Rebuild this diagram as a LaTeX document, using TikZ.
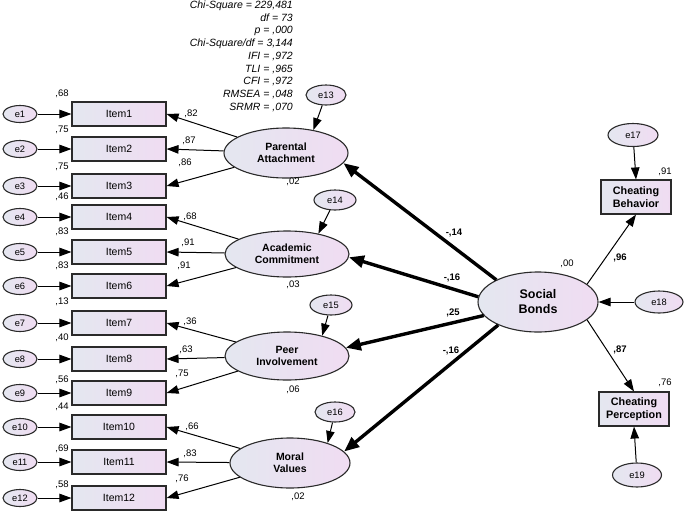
\documentclass[tikz,border=0pt]{standalone}
\usepackage{fontspec}
\setmainfont{Liberation Sans}
\usetikzlibrary{shapes.geometric,arrows.meta}
\definecolor{lcol}{HTML}{E4E7F0}
\definecolor{rcol}{HTML}{F0DCF2}
\definecolor{edgec}{HTML}{2A2A2A}
\tikzset{
 shaded/.style={draw=edgec, line width=1.1pt, left color=lcol, right color=rcol},
 itembox/.style={shaded, minimum width=94pt, minimum height=24pt, inner sep=0pt, font=\fontsize{10.5}{12}\selectfont},
 errell/.style={shaded, ellipse, minimum width=34pt, minimum height=17pt, inner sep=0pt, font=\fontsize{9.3}{10}\selectfont},
 bigerr/.style={errell, minimum width=48pt, minimum height=22pt},
 latent/.style={shaded, ellipse, inner sep=0pt, align=center, font=\fontsize{10.5}{12.3}\selectfont\bfseries},
 obsbox/.style={shaded, minimum width=70pt, minimum height=34pt, inner sep=0pt, align=center, font=\fontsize{10.8}{12.5}\selectfont\bfseries},
 num/.style={font=\fontsize{9.5}{10}\selectfont, inner sep=0pt},
 bnum/.style={font=\fontsize{9.5}{10}\selectfont\bfseries, inner sep=0pt},
 patharrow/.style={draw=black, line width=1pt, -{Triangle[length=12pt,width=8.5pt]}},
 strongarrow/.style={draw=black, line width=3.4pt, -{Triangle[length=15pt,width=12pt]}},
}
\begin{document}
\begin{tikzpicture}[x=1pt,y=-1pt]
\useasboundingbox (0,0) rectangle (685,512);

% fit statistics
\node[anchor=north east, inner sep=0pt, align=right, font=\fontsize{10.5}{12.75}\selectfont\itshape] (fit) at (293,0.5)
{Chi-Square = 229,481\\ df = 73\\ p = ,000\\ Chi-Square/df = 3,144\\ IFI = ,972\\ TLI = ,965\\ CFI = ,972\\ RMSEA = ,048\\ SRMR = ,070};

% items and their errors
\foreach \i/\y in {1/114,2/149,3/186,4/217,5/252,6/286,7/323,8/359,9/393,10/427,11/462,12/498} {
  \node[itembox] (I\i) at (119,\y) {Item\i};
  \node[errell] (e\i) at (20,\y) {e\i};
  \draw[patharrow] (e\i) -- (I\i);
}

% item R^2 labels
\foreach \v/\y in {68/94,75/130,75/167,46/197,83/232,83/266,13/302,40/338,56/380,44/407,69/449,58/485} {
  \node[num] at (62,\y) {,\v};
}

% latent factors
\node[latent, minimum width=124pt, minimum height=50pt] (PA) at (286,153) {Parental\\Attachment};
\node[latent, minimum width=124pt, minimum height=46pt] (AC) at (287,254) {Academic\\Commitment};
\node[latent, minimum width=124pt, minimum height=48pt] (PI) at (287,356) {Peer\\Involvement};
\node[latent, minimum width=120pt, minimum height=50pt] (MV) at (290,463) {Moral\\Values};
\node[latent, minimum width=120pt, minimum height=60pt, font=\fontsize{12.5}{15}\selectfont\bfseries] (SB) at (538,302) {Social\\Bonds};

% latent errors
\node[errell, minimum width=40pt, minimum height=20pt] (e13) at (326,95) {e13};
\node[errell, minimum width=42pt, minimum height=20pt] (e14) at (335,200) {e14};
\node[errell, minimum width=42pt, minimum height=20pt] (e15) at (331,305) {e15};
\node[errell, minimum width=40pt, minimum height=20pt] (e16) at (335,412) {e16};
\draw[patharrow] (e13) -- (PA.40);
\draw[patharrow] (e14) -- (AC.33);
\draw[patharrow] (e15) -- (PI.30);
\draw[patharrow] (e16) -- (MV.28);

% loadings
\draw[patharrow] (PA) -- (I1.east);
\draw[patharrow] (PA) -- (I2.east);
\draw[patharrow] (PA) -- (I3.east);
\draw[patharrow] (AC) -- (I4.east);
\draw[patharrow] (AC) -- (I5.east);
\draw[patharrow] (AC) -- (I6.east);
\draw[patharrow] (PI) -- (I7.east);
\draw[patharrow] (PI) -- (I8.east);
\draw[patharrow] (PI) -- (I9.east);
\draw[patharrow] (MV) -- (I10.east);
\draw[patharrow] (MV) -- (I11.east);
\draw[patharrow] (MV) -- (I12.east);

\node[num] at (191,114) {,82};
\node[num] at (189,141) {,87};
\node[num] at (185,163) {,86};
\node[num] at (190,217) {,68};
\node[num] at (188,243) {,91};
\node[num] at (184,266) {,91};
\node[num] at (190,322) {,36};
\node[num] at (186,350) {,63};
\node[num] at (182,374) {,75};
\node[num] at (192,427) {,66};
\node[num] at (190,454) {,83};
\node[num] at (182,479) {,76};

% latent R^2
\node[num] at (293,182) {,02};
\node[num] at (293,285) {,03};
\node[num] at (293,390) {,06};
\node[num] at (298,497) {,02};
\node[num] at (567,264) {,00};

% outcomes
\node[obsbox] (CB) at (636,197) {Cheating\\Behavior};
\node[obsbox] (CP) at (634,409) {Cheating\\Perception};
\node[bigerr, minimum width=50pt, minimum height=23pt] (e17) at (633,135) {e17};
\node[bigerr] (e18) at (659,302) {e18};
\node[bigerr, minimum width=49pt, minimum height=24pt] (e19) at (637,475) {e19};
\draw[patharrow] (e17) -- (CB.north);
\draw[patharrow] (e19) -- (CP.south);
\draw[patharrow] (e18) -- (SB.east);
\node[num] at (665,172) {,91};
\node[num] at (665,383) {,76};

% structural paths
\draw[strongarrow] (SB.152) -- (PA.-10);
\draw[strongarrow] (SB.175) -- (AC.-3);
\draw[strongarrow] (SB.-166) -- (PI.8);
\draw[strongarrow] (SB.-150) -- (MV.12);
\draw[patharrow] (SB.20) -- (CB.south);
\draw[patharrow] (SB.-20) -- (CP.north);

\node[bnum] at (454,233) {-,14};
\node[bnum] at (452,278) {-,16};
\node[bnum] at (453,313) {,25};
\node[bnum] at (451,351) {-,16};
\node[bnum] at (620,258) {,96};
\node[bnum] at (620,350) {,87};
\end{tikzpicture}
\end{document}
